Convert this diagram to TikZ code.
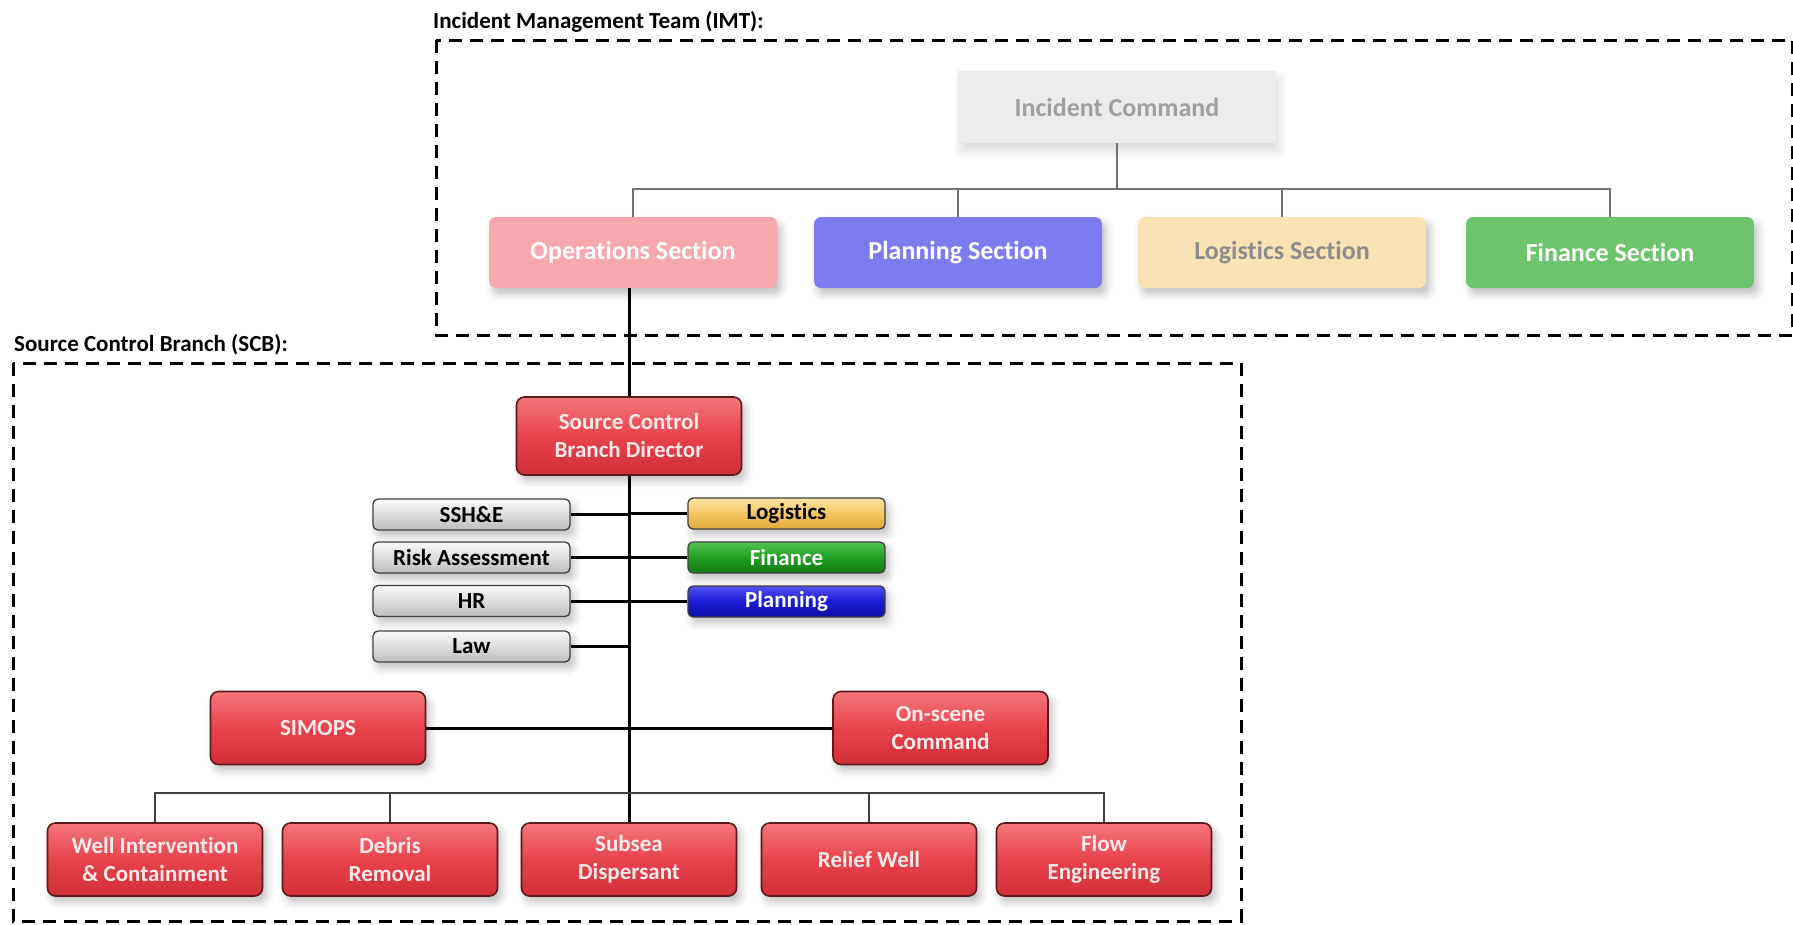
\documentclass[tikz,border=0pt]{standalone}
\usepackage{fontspec}
\setmainfont[Ligatures=NoCommon]{Carlito}
\usetikzlibrary{shadows.blur}

\definecolor{redtop}{HTML}{F4767C}
\definecolor{redmid}{HTML}{E8434C}
\definecolor{redbot}{HTML}{D22E38}
\definecolor{redline}{HTML}{5E1A1A}
\definecolor{redtext}{HTML}{FCEAEA}
\definecolor{greytop}{HTML}{FAFAFA}
\definecolor{greymid}{HTML}{DCDCDC}
\definecolor{greybot}{HTML}{BDBDBD}
\definecolor{yeltop}{HTML}{FCE6A6}
\definecolor{yelmid}{HTML}{F5C660}
\definecolor{yelbot}{HTML}{E2A93A}
\definecolor{grntop}{HTML}{52C452}
\definecolor{grnmid}{HTML}{1E9E1E}
\definecolor{grnbot}{HTML}{147A14}
\definecolor{blutop}{HTML}{5050F2}
\definecolor{blumid}{HTML}{1C1CD6}
\definecolor{blubot}{HTML}{0E0EA6}
\definecolor{fadeops}{HTML}{F7A8AD}
\definecolor{fadeplan}{HTML}{7C7CF0}
\definecolor{fadelog}{HTML}{F9E3B4}
\definecolor{fadefin}{HTML}{6CC46C}
\definecolor{fadeic}{HTML}{ECECEC}

\begin{document}
\begin{tikzpicture}[x=1pt,y=-1pt,
  box/.style={rectangle, align=center, inner sep=0pt,
    font=\bfseries\fontsize{23}{28}\selectfont},
  softshadow/.style={blur shadow={shadow xshift=4pt, shadow yshift=-6pt,
    shadow blur radius=8pt, shadow opacity=25}},
  redbox/.style={box, rounded corners=8pt, draw=redline, line width=1.6pt,
    top color=redtop, bottom color=redbot, middle color=redmid,
    text=redtext, minimum width=215pt, minimum height=73pt, softshadow},
  staffbox/.style={box, rounded corners=5pt, draw=black!75, line width=1.3pt,
    top color=greytop, bottom color=greybot, middle color=greymid,
    text=black, minimum width=197pt, minimum height=31pt, softshadow},
  logbox/.style={staffbox, top color=yeltop, bottom color=yelbot, middle color=yelmid},
  finbox/.style={staffbox, top color=grntop, bottom color=grnbot, middle color=grnmid, text=white},
  planbox/.style={staffbox, top color=blutop, bottom color=blubot, middle color=blumid, text=white},
  imtbox/.style={box, rounded corners=7pt, minimum width=288pt, minimum height=71pt,
    font=\bfseries\fontsize{26}{30}\selectfont, text=white, softshadow},
  groupframe/.style={draw=black, line width=3pt, dash pattern=on 13pt off 8pt},
  grouptitle/.style={anchor=west, inner sep=0pt, font=\bfseries\fontsize{23}{26}\selectfont},
  imtline/.style={draw=black!55, line width=2pt},
  trunkline/.style={draw=black, line width=3pt},
  barline/.style={draw=black!75, line width=1.6pt}
]
\useasboundingbox (0,0) rectangle (1793,924);

% group frames and their titles
\draw[groupframe] (436,40) rectangle (1792,335);
\node[grouptitle] (imttitle) at (433,22) {Incident Management Team (IMT):};
\draw[groupframe] (13,363) rectangle (1241,921);
\node[grouptitle] (scbtitle) at (14,345) {Source Control Branch (SCB):};

% incident management team
\node[box, minimum width=318pt, minimum height=72pt, fill=fadeic, text=black!38,
  font=\bfseries\fontsize{26}{30}\selectfont,
  blur shadow={shadow xshift=3pt, shadow yshift=-8pt, shadow blur radius=9pt, shadow opacity=15}]
  (ic) at (1117,107) {Incident Command};
\node[imtbox, fill=fadeops] (ops) at (633,252.5) {Operations Section};
\node[imtbox, fill=fadeplan] (plan) at (958,252.5) {Planning Section};
\node[imtbox, fill=fadelog, text=black!45] (logsec) at (1282,252.5) {Logistics Section};
\node[imtbox, fill=fadefin] (finsec) at (1610,252.5) {Finance Section};

\coordinate (imtbar) at (0,189);
\draw[imtline] (ic.south) -- (ic.south |- imtbar);
\draw[imtline] (ops.north) |- (finsec.north |- imtbar) -- (finsec.north);
\draw[imtline] (plan.north) -- (plan.north |- imtbar);
\draw[imtline] (logsec.north) -- (logsec.north |- imtbar);

% source control branch
\node[redbox, minimum width=225pt, minimum height=78pt] (scbd) at (629,436)
  {Source Control\\Branch Director};

\node[staffbox] (sshe) at (471.5,514.5) {SSH\&E};
\node[staffbox] (risk) at (471.5,557.5) {Risk Assessment};
\node[staffbox] (hr) at (471.5,601) {HR};
\node[staffbox] (law) at (471.5,646.5) {Law};

\node[logbox] (logi) at (786.5,513.5) {Logistics};
\node[finbox] (fin) at (786.5,557.5) {Finance};
\node[planbox] (planning) at (786.5,601.5) {Planning};

\node[redbox] (simops) at (318,728) {SIMOPS};
\node[redbox] (onscene) at (940.5,728) {On-scene\\Command};

\node[redbox] (well) at (155,859.5) {Well Intervention\\\& Containment};
\node[redbox] (debris) at (390,859.5) {Debris\\Removal};
\node[redbox] (subsea) at (629,859.5) {Subsea\\Dispersant};
\node[redbox] (relief) at (869,859.5) {Relief Well};
\node[redbox] (flow) at (1104,859.5) {Flow\\Engineering};

% connectors inside the branch
\draw[trunkline] (ops.south -| scbd.north) -- (scbd.north);
\draw[trunkline] (scbd.south) -- (subsea.north);
\foreach \n in {sshe,risk,hr,law}
  \draw[trunkline] (\n.east) -- (\n.east -| scbd.south);
\foreach \n in {logi,fin,planning}
  \draw[trunkline] (\n.west) -- (\n.west -| scbd.south);
\draw[trunkline] (simops.east) -- (onscene.west);

\coordinate (lowbar) at (0,793);
\draw[barline] (well.north) |- (flow.north |- lowbar) -- (flow.north);
\draw[barline] (debris.north) -- (debris.north |- lowbar);
\draw[barline] (relief.north) -- (relief.north |- lowbar);
\end{tikzpicture}
\end{document}
